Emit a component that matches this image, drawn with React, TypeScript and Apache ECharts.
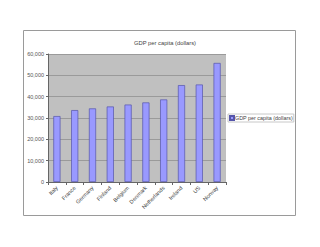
import React, { useEffect, useRef } from "react";
import * as echarts from "echarts";

const categories = ["Italy", "France", "Germany", "Finland", "Belgium", "Denmark", "Netherlands", "Ireland", "US", "Norway"];
const gdpValues = [30900, 33700, 34500, 35400, 36300, 37300, 38700, 45400, 45700, 55800];
const seriesName = "GDP per capita (dollars)";

export default function App() {
  const ref = useRef<HTMLDivElement>(null);
  useEffect(() => {
    if (!ref.current) return;
    const chart = echarts.init(ref.current, undefined, { renderer: "svg" });
    chart.setOption({
      animation: false,
      backgroundColor: "#ffffff",
      textStyle: { fontFamily: "Liberation Sans" },
      title: {
        text: seriesName,
        left: 160,
        textAlign: "center",
        top: 35,
        textStyle: { fontSize: 5.8, fontWeight: "normal", color: "#444" },
      },
      graphic: [
        {
          type: "rect",
          shape: { x: 23.5, y: 30.5, width: 272, height: 185 },
          style: { fill: "none", stroke: "#9a9a9a", lineWidth: 1 },
          z: -1,
        },
      ],
      legend: {
        left: 228,
        top: 114,
        orient: "vertical",
        itemWidth: 4,
        itemHeight: 4,
        itemGap: 2,
        padding: [1, 1, 1, 1],
        borderColor: "#c8c8c8",
        borderWidth: 1,
        textStyle: { fontSize: 5.4, color: "#444", padding: [0, 0, 0, -4] },
        data: [{ name: seriesName, icon: "rect" }],
      },
      grid: {
        left: 48,
        right: 94,
        top: 54,
        bottom: 65,
        show: true,
        backgroundColor: "#c0c0c0",
        borderColor: "#a0a0a0",
        borderWidth: 0,
      },
      xAxis: {
        type: "category",
        data: categories,
        axisLine: { lineStyle: { color: "#666" } },
        axisTick: { show: true, alignWithLabel: false, length: 3, lineStyle: { color: "#666" } },
        axisLabel: { rotate: 45, fontSize: 5.5, color: "#444", margin: 5, interval: 0 },
      },
      yAxis: {
        type: "value",
        min: 0,
        max: 60000,
        interval: 10000,
        axisLine: { show: true, lineStyle: { color: "#666" } },
        axisTick: { show: true, length: 2, lineStyle: { color: "#666" } },
        axisLabel: {
          fontSize: 5.5,
          color: "#555",
          margin: 4,
          formatter: (v: number) => v.toLocaleString("en-US"),
        },
        splitLine: { lineStyle: { color: "#9a9a9a", width: 1 } },
      },
      series: [
        {
          name: seriesName,
          type: "bar",
          data: gdpValues,
          barWidth: "40%",
          itemStyle: { color: "#9999ff", borderColor: "#5555aa", borderWidth: 0.7 },
        },
      ],
    });
    return () => chart.dispose();
  }, []);
  return <div ref={ref} style={{ position: "fixed", left: 0, top: 0, width: 320, height: 247 }} />;
}
